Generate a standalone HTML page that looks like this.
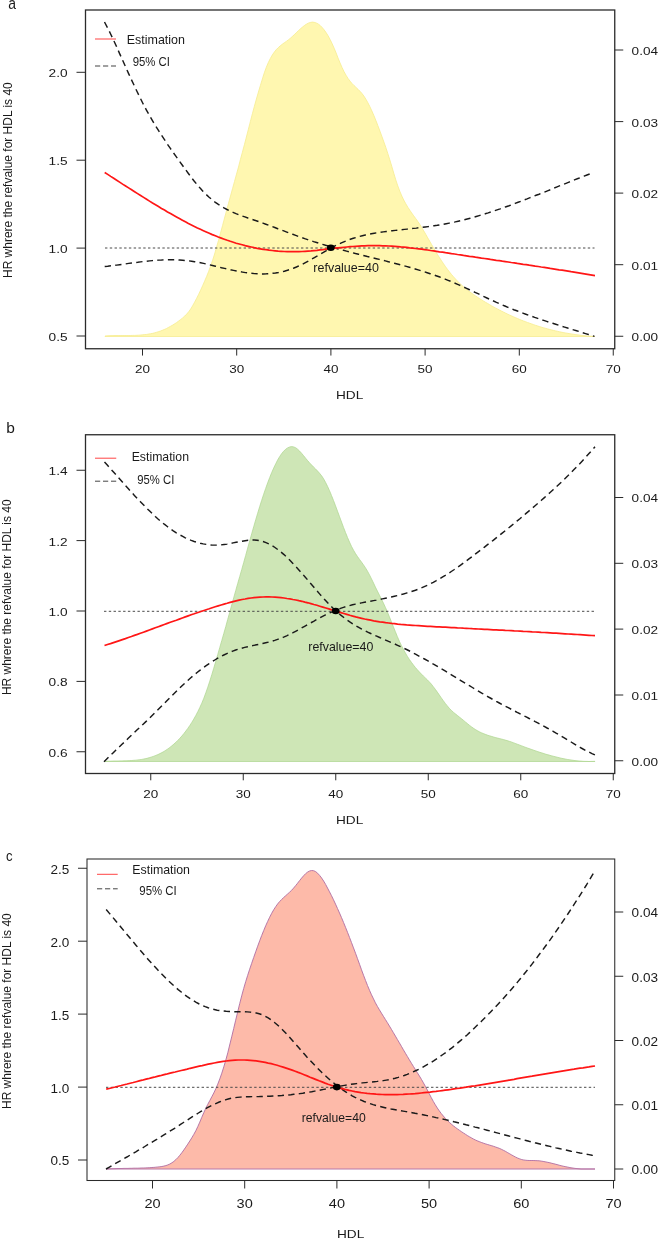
<!DOCTYPE html>
<html><head><meta charset="utf-8"><title>HDL hazard ratio curves</title>
<style>
html,body{margin:0;padding:0;background:#fff;}
body{width:659px;height:1239px;overflow:hidden;}
svg{display:block;}
text{font-family:"Liberation Sans",sans-serif;fill:#1a1a1a;}
</style></head><body>
<svg width="659" height="1239" viewBox="0 0 659 1239">
<rect width="659" height="1239" fill="#fff"/>
<g id="panel-a">
<path d="M105.0,336.0 L107.0,335.8 L109.0,335.7 L111.0,335.6 L113.0,335.6 L115.0,335.5 L117.0,335.5 L118.9,335.5 L120.9,335.5 L122.9,335.5 L124.9,335.5 L126.9,335.5 L128.9,335.5 L130.9,335.5 L132.9,335.4 L134.9,335.4 L136.9,335.3 L138.9,335.2 L140.9,335.0 L142.8,334.8 L144.8,334.6 L146.8,334.4 L148.8,334.0 L150.8,333.7 L152.8,333.3 L154.8,332.8 L156.8,332.2 L158.8,331.6 L160.8,330.9 L162.8,330.1 L164.8,329.3 L166.7,328.4 L168.7,327.3 L170.7,326.2 L172.7,325.1 L174.7,323.8 L176.7,322.5 L178.7,321.0 L180.7,319.5 L182.7,317.9 L184.7,316.1 L186.7,314.1 L188.7,311.7 L190.7,309.0 L192.6,305.8 L194.6,302.2 L196.6,298.4 L198.6,294.4 L200.6,290.2 L202.6,285.8 L204.6,281.2 L206.6,276.5 L208.6,271.5 L210.6,266.1 L212.6,260.3 L214.6,254.0 L216.5,247.3 L218.5,240.4 L220.5,233.1 L222.5,225.7 L224.5,218.2 L226.5,210.7 L228.5,203.3 L230.5,196.0 L232.5,188.7 L234.5,181.5 L236.5,174.2 L238.5,167.0 L240.4,159.6 L242.4,152.2 L244.4,144.7 L246.4,137.0 L248.4,129.2 L250.4,121.4 L252.4,113.7 L254.4,106.2 L256.4,99.0 L258.4,92.1 L260.4,85.4 L262.4,78.9 L264.3,72.8 L266.3,67.3 L268.3,62.6 L270.3,58.5 L272.3,55.0 L274.3,52.1 L276.3,49.6 L278.3,47.6 L280.3,45.8 L282.3,44.2 L284.3,42.8 L286.3,41.4 L288.3,39.9 L290.2,38.4 L292.2,36.6 L294.2,34.8 L296.2,32.8 L298.2,30.9 L300.2,29.0 L302.2,27.3 L304.2,25.7 L306.2,24.3 L308.2,23.2 L310.2,22.5 L312.2,22.1 L314.1,22.3 L316.1,22.9 L318.1,23.9 L320.1,25.4 L322.1,27.4 L324.1,29.8 L326.1,32.6 L328.1,35.8 L330.1,39.5 L332.1,43.6 L334.1,48.1 L336.1,52.9 L338.0,57.9 L340.0,62.8 L342.0,67.4 L344.0,71.6 L346.0,75.2 L348.0,78.4 L350.0,81.1 L352.0,83.5 L354.0,85.5 L356.0,87.4 L358.0,89.3 L360.0,91.3 L362.0,93.5 L363.9,96.1 L365.9,99.2 L367.9,102.8 L369.9,106.7 L371.9,111.0 L373.9,115.6 L375.9,120.5 L377.9,125.7 L379.9,131.0 L381.9,136.4 L383.9,142.0 L385.9,147.7 L387.8,153.5 L389.8,159.8 L391.8,166.4 L393.8,173.3 L395.8,179.9 L397.8,185.9 L399.8,191.2 L401.8,196.0 L403.8,200.1 L405.8,203.8 L407.8,207.2 L409.8,210.2 L411.7,213.0 L413.7,215.8 L415.7,218.5 L417.7,221.3 L419.7,224.2 L421.7,227.4 L423.7,230.8 L425.7,234.2 L427.7,237.8 L429.7,241.2 L431.7,244.7 L433.7,248.1 L435.7,251.4 L437.6,254.7 L439.6,257.8 L441.6,260.9 L443.6,263.9 L445.6,266.8 L447.6,269.5 L449.6,272.1 L451.6,274.6 L453.6,276.9 L455.6,279.1 L457.6,281.2 L459.6,283.2 L461.5,285.1 L463.5,286.8 L465.5,288.5 L467.5,290.1 L469.5,291.6 L471.5,293.1 L473.5,294.5 L475.5,295.9 L477.5,297.2 L479.5,298.5 L481.5,299.7 L483.5,301.0 L485.4,302.2 L487.4,303.3 L489.4,304.5 L491.4,305.7 L493.4,306.8 L495.4,307.9 L497.4,308.9 L499.4,310.0 L501.4,311.0 L503.4,312.0 L505.4,313.0 L507.4,314.0 L509.3,314.9 L511.3,315.8 L513.3,316.7 L515.3,317.6 L517.3,318.4 L519.3,319.3 L521.3,320.1 L523.3,320.9 L525.3,321.6 L527.3,322.4 L529.3,323.1 L531.3,323.8 L533.3,324.5 L535.2,325.2 L537.2,325.8 L539.2,326.5 L541.2,327.1 L543.2,327.7 L545.2,328.2 L547.2,328.8 L549.2,329.3 L551.2,329.8 L553.2,330.3 L555.2,330.8 L557.2,331.2 L559.1,331.7 L561.1,332.1 L563.1,332.5 L565.1,332.9 L567.1,333.2 L569.1,333.6 L571.1,333.9 L573.1,334.2 L575.1,334.5 L577.1,334.8 L579.1,335.0 L581.1,335.3 L583.0,335.5 L585.0,335.7 L587.0,335.9 L589.0,336.1 L591.0,336.2 L593.0,336.4 L595.0,336.5 L595.0,336.5 L105.0,336.5 Z" fill="#FFF7B0" stroke="#F6EC90" stroke-width="0.8" stroke-linejoin="round"/>
<line x1="105" y1="248" x2="594.5" y2="248" stroke="#4a4a4a" stroke-width="1.0" stroke-dasharray="2.4 2.38"/>
<path d="M104.5,22.0 L107.5,27.7 L110.5,33.7 L113.5,40.0 L116.5,46.5 L119.4,53.1 L122.4,59.8 L125.4,66.5 L128.4,73.1 L131.4,79.6 L134.4,86.0 L137.4,92.3 L140.4,98.3 L143.3,104.2 L146.3,109.8 L149.3,115.2 L152.3,120.4 L155.3,125.4 L158.3,130.2 L161.3,134.9 L164.3,139.4 L167.2,143.9 L170.2,148.2 L173.2,152.5 L176.2,156.7 L179.2,160.9 L182.2,165.0 L185.2,169.1 L188.2,173.2 L191.1,177.1 L194.1,181.0 L197.1,184.6 L200.1,188.1 L203.1,191.4 L206.1,194.4 L209.1,197.2 L212.1,199.7 L215.0,202.1 L218.0,204.2 L221.0,206.1 L224.0,207.9 L227.0,209.5 L230.0,211.0 L233.0,212.3 L236.0,213.6 L239.0,214.8 L241.9,215.9 L244.9,216.9 L247.9,218.0 L250.9,219.0 L253.9,220.0 L256.9,221.0 L259.9,222.0 L262.9,223.1 L265.8,224.2 L268.8,225.3 L271.8,226.4 L274.8,227.5 L277.8,228.7 L280.8,229.8 L283.8,230.9 L286.8,232.1 L289.7,233.2 L292.7,234.3 L295.7,235.4 L298.7,236.5 L301.7,237.5 L304.7,238.6 L307.7,239.6 L310.7,240.6 L313.6,241.6 L316.6,242.5 L319.6,243.5 L322.6,244.4 L325.6,245.3 L328.6,246.1 L331.6,247.0 L334.6,247.9 L337.5,248.7 L340.5,249.5 L343.5,250.3 L346.5,251.1 L349.5,251.9 L352.5,252.7 L355.5,253.5 L358.5,254.2 L361.5,255.0 L364.4,255.7 L367.4,256.5 L370.4,257.2 L373.4,258.0 L376.4,258.7 L379.4,259.4 L382.4,260.2 L385.4,260.9 L388.3,261.7 L391.3,262.5 L394.3,263.2 L397.3,264.0 L400.3,264.8 L403.3,265.6 L406.3,266.4 L409.3,267.2 L412.2,268.1 L415.2,269.0 L418.2,269.9 L421.2,270.8 L424.2,271.7 L427.2,272.7 L430.2,273.7 L433.2,274.7 L436.1,275.7 L439.1,276.8 L442.1,277.9 L445.1,279.1 L448.1,280.3 L451.1,281.5 L454.1,282.8 L457.1,284.1 L460.0,285.4 L463.0,286.7 L466.0,288.1 L469.0,289.5 L472.0,290.9 L475.0,292.3 L478.0,293.7 L481.0,295.2 L484.0,296.6 L486.9,298.0 L489.9,299.4 L492.9,300.7 L495.9,302.1 L498.9,303.4 L501.9,304.7 L504.9,306.0 L507.9,307.3 L510.8,308.5 L513.8,309.7 L516.8,310.8 L519.8,312.0 L522.8,313.1 L525.8,314.2 L528.8,315.3 L531.8,316.3 L534.7,317.4 L537.7,318.4 L540.7,319.4 L543.7,320.4 L546.7,321.4 L549.7,322.4 L552.7,323.3 L555.7,324.3 L558.6,325.2 L561.6,326.2 L564.6,327.1 L567.6,328.0 L570.6,329.0 L573.6,329.9 L576.6,330.8 L579.6,331.7 L582.5,332.7 L585.5,333.6 L588.5,334.5 L591.5,335.5 L594.5,336.4" fill="none" stroke="#1a1a1a" stroke-width="1.45" stroke-dasharray="6.3 4.3"/>
<path d="M104.7,266.5 L107.7,266.2 L110.7,265.8 L113.7,265.4 L116.7,265.1 L119.7,264.7 L122.7,264.3 L125.7,263.9 L128.7,263.4 L131.7,263.0 L134.7,262.6 L137.7,262.3 L140.6,261.9 L143.6,261.5 L146.6,261.2 L149.6,260.9 L152.6,260.6 L155.6,260.4 L158.6,260.1 L161.6,260.0 L164.6,259.8 L167.6,259.8 L170.6,259.7 L173.6,259.8 L176.6,259.8 L179.6,260.0 L182.6,260.2 L185.6,260.5 L188.6,260.8 L191.6,261.2 L194.6,261.7 L197.6,262.2 L200.6,262.8 L203.6,263.4 L206.6,264.1 L209.5,264.8 L212.5,265.5 L215.5,266.2 L218.5,266.9 L221.5,267.7 L224.5,268.4 L227.5,269.1 L230.5,269.8 L233.5,270.4 L236.5,271.0 L239.5,271.6 L242.5,272.1 L245.5,272.6 L248.5,273.0 L251.5,273.3 L254.5,273.6 L257.5,273.8 L260.5,273.9 L263.5,273.9 L266.5,273.8 L269.5,273.6 L272.5,273.3 L275.5,273.0 L278.5,272.5 L281.4,271.9 L284.4,271.2 L287.4,270.3 L290.4,269.3 L293.4,268.2 L296.4,267.0 L299.4,265.6 L302.4,264.2 L305.4,262.6 L308.4,261.0 L311.4,259.3 L314.4,257.6 L317.4,255.9 L320.4,254.1 L323.4,252.4 L326.4,250.6 L329.4,249.0 L332.4,247.3 L335.4,245.7 L338.4,244.3 L341.4,242.9 L344.4,241.6 L347.4,240.4 L350.3,239.3 L353.3,238.3 L356.3,237.4 L359.3,236.5 L362.3,235.7 L365.3,235.0 L368.3,234.4 L371.3,233.8 L374.3,233.2 L377.3,232.7 L380.3,232.3 L383.3,231.9 L386.3,231.5 L389.3,231.1 L392.3,230.7 L395.3,230.4 L398.3,230.1 L401.3,229.8 L404.3,229.4 L407.3,229.1 L410.3,228.8 L413.3,228.4 L416.3,228.1 L419.2,227.7 L422.2,227.4 L425.2,227.0 L428.2,226.6 L431.2,226.2 L434.2,225.7 L437.2,225.3 L440.2,224.8 L443.2,224.3 L446.2,223.7 L449.2,223.1 L452.2,222.5 L455.2,221.9 L458.2,221.2 L461.2,220.5 L464.2,219.8 L467.2,219.0 L470.2,218.2 L473.2,217.4 L476.2,216.5 L479.2,215.6 L482.2,214.7 L485.2,213.8 L488.2,212.9 L491.1,211.9 L494.1,210.9 L497.1,209.9 L500.1,208.9 L503.1,207.8 L506.1,206.7 L509.1,205.7 L512.1,204.6 L515.1,203.4 L518.1,202.3 L521.1,201.2 L524.1,200.0 L527.1,198.9 L530.1,197.7 L533.1,196.5 L536.1,195.3 L539.1,194.2 L542.1,193.0 L545.1,191.8 L548.1,190.6 L551.1,189.4 L554.1,188.1 L557.1,186.9 L560.0,185.7 L563.0,184.5 L566.0,183.3 L569.0,182.1 L572.0,180.9 L575.0,179.7 L578.0,178.5 L581.0,177.4 L584.0,176.2 L587.0,175.0 L590.0,173.9 L593.0,172.7" fill="none" stroke="#1a1a1a" stroke-width="1.45" stroke-dasharray="6.3 4.3"/>
<path d="M104.7,172.5 L107.7,174.4 L110.7,176.4 L113.7,178.3 L116.7,180.2 L119.6,182.1 L122.6,184.1 L125.6,186.0 L128.6,187.9 L131.6,189.8 L134.6,191.7 L137.6,193.6 L140.6,195.5 L143.6,197.4 L146.6,199.3 L149.5,201.1 L152.5,203.0 L155.5,204.8 L158.5,206.6 L161.5,208.4 L164.5,210.1 L167.5,211.9 L170.5,213.6 L173.5,215.3 L176.5,217.0 L179.4,218.6 L182.4,220.2 L185.4,221.8 L188.4,223.4 L191.4,224.9 L194.4,226.4 L197.4,227.9 L200.4,229.3 L203.4,230.7 L206.3,232.0 L209.3,233.3 L212.3,234.6 L215.3,235.8 L218.3,237.0 L221.3,238.1 L224.3,239.2 L227.3,240.3 L230.3,241.3 L233.3,242.2 L236.2,243.2 L239.2,244.0 L242.2,244.8 L245.2,245.6 L248.2,246.3 L251.2,247.0 L254.2,247.7 L257.2,248.3 L260.2,248.8 L263.2,249.3 L266.1,249.7 L269.1,250.2 L272.1,250.5 L275.1,250.8 L278.1,251.1 L281.1,251.3 L284.1,251.5 L287.1,251.6 L290.1,251.7 L293.0,251.7 L296.0,251.7 L299.0,251.6 L302.0,251.5 L305.0,251.3 L308.0,251.1 L311.0,250.9 L314.0,250.6 L317.0,250.3 L320.0,249.9 L322.9,249.6 L325.9,249.2 L328.9,248.9 L331.9,248.5 L334.9,248.2 L337.9,247.9 L340.9,247.6 L343.9,247.3 L346.9,247.0 L349.9,246.7 L352.8,246.5 L355.8,246.3 L358.8,246.1 L361.8,245.9 L364.8,245.8 L367.8,245.7 L370.8,245.7 L373.8,245.6 L376.8,245.6 L379.7,245.7 L382.7,245.8 L385.7,245.9 L388.7,246.0 L391.7,246.2 L394.7,246.4 L397.7,246.6 L400.7,246.9 L403.7,247.1 L406.7,247.4 L409.6,247.8 L412.6,248.1 L415.6,248.5 L418.6,248.8 L421.6,249.2 L424.6,249.6 L427.6,250.0 L430.6,250.5 L433.6,250.9 L436.5,251.3 L439.5,251.8 L442.5,252.2 L445.5,252.7 L448.5,253.1 L451.5,253.6 L454.5,254.0 L457.5,254.5 L460.5,254.9 L463.5,255.4 L466.4,255.8 L469.4,256.3 L472.4,256.7 L475.4,257.2 L478.4,257.6 L481.4,258.1 L484.4,258.5 L487.4,258.9 L490.4,259.4 L493.4,259.8 L496.3,260.3 L499.3,260.7 L502.3,261.2 L505.3,261.6 L508.3,262.0 L511.3,262.5 L514.3,262.9 L517.3,263.4 L520.3,263.8 L523.2,264.3 L526.2,264.7 L529.2,265.2 L532.2,265.6 L535.2,266.1 L538.2,266.5 L541.2,267.0 L544.2,267.4 L547.2,267.9 L550.2,268.4 L553.1,268.8 L556.1,269.3 L559.1,269.8 L562.1,270.2 L565.1,270.7 L568.1,271.2 L571.1,271.7 L574.1,272.1 L577.1,272.6 L580.1,273.1 L583.0,273.6 L586.0,274.1 L589.0,274.6 L592.0,275.1 L595.0,275.6" fill="none" stroke="#FF1616" stroke-width="1.7" stroke-linecap="butt"/>
<ellipse cx="330.8" cy="247.8" rx="3.9" ry="3.3" fill="#000"/>
<rect x="85.5" y="10" width="529.25" height="338.75" fill="none" stroke="#2b2b2b" stroke-width="1.3"/>
<line x1="142.5" y1="348.75" x2="142.5" y2="355.55" stroke="#2b2b2b" stroke-width="1"/>
<text x="135.0" y="373.0" font-size="11.3" textLength="15.0" lengthAdjust="spacingAndGlyphs" >20</text>
<line x1="236.7" y1="348.75" x2="236.7" y2="355.55" stroke="#2b2b2b" stroke-width="1"/>
<text x="229.2" y="373.0" font-size="11.3" textLength="15.0" lengthAdjust="spacingAndGlyphs" >30</text>
<line x1="330.9" y1="348.75" x2="330.9" y2="355.55" stroke="#2b2b2b" stroke-width="1"/>
<text x="323.4" y="373.0" font-size="11.3" textLength="15.0" lengthAdjust="spacingAndGlyphs" >40</text>
<line x1="425.1" y1="348.75" x2="425.1" y2="355.55" stroke="#2b2b2b" stroke-width="1"/>
<text x="417.6" y="373.0" font-size="11.3" textLength="15.0" lengthAdjust="spacingAndGlyphs" >50</text>
<line x1="519.3" y1="348.75" x2="519.3" y2="355.55" stroke="#2b2b2b" stroke-width="1"/>
<text x="511.8" y="373.0" font-size="11.3" textLength="15.0" lengthAdjust="spacingAndGlyphs" >60</text>
<line x1="613.25" y1="348.75" x2="613.25" y2="355.55" stroke="#2b2b2b" stroke-width="1"/>
<text x="605.8" y="373.0" font-size="11.3" textLength="15.0" lengthAdjust="spacingAndGlyphs" >70</text>
<line x1="76.5" y1="336" x2="85.5" y2="336" stroke="#2b2b2b" stroke-width="1"/>
<text x="48.6" y="340.9" font-size="11.3" textLength="19.0" lengthAdjust="spacingAndGlyphs" >0.5</text>
<line x1="76.5" y1="248.1" x2="85.5" y2="248.1" stroke="#2b2b2b" stroke-width="1"/>
<text x="48.6" y="253.0" font-size="11.3" textLength="19.0" lengthAdjust="spacingAndGlyphs" >1.0</text>
<line x1="76.5" y1="160.2" x2="85.5" y2="160.2" stroke="#2b2b2b" stroke-width="1"/>
<text x="48.6" y="165.1" font-size="11.3" textLength="19.0" lengthAdjust="spacingAndGlyphs" >1.5</text>
<line x1="76.5" y1="72.3" x2="85.5" y2="72.3" stroke="#2b2b2b" stroke-width="1"/>
<text x="48.6" y="77.2" font-size="11.3" textLength="19.0" lengthAdjust="spacingAndGlyphs" >2.0</text>
<line x1="614.75" y1="336.25" x2="623.25" y2="336.25" stroke="#2b2b2b" stroke-width="1"/>
<text x="631.6" y="341.1" font-size="11.3" textLength="26.4" lengthAdjust="spacingAndGlyphs" >0.00</text>
<line x1="614.75" y1="264.7" x2="623.25" y2="264.7" stroke="#2b2b2b" stroke-width="1"/>
<text x="631.6" y="269.6" font-size="11.3" textLength="26.4" lengthAdjust="spacingAndGlyphs" >0.01</text>
<line x1="614.75" y1="193.1" x2="623.25" y2="193.1" stroke="#2b2b2b" stroke-width="1"/>
<text x="631.6" y="198.0" font-size="11.3" textLength="26.4" lengthAdjust="spacingAndGlyphs" >0.02</text>
<line x1="614.75" y1="121.6" x2="623.25" y2="121.6" stroke="#2b2b2b" stroke-width="1"/>
<text x="631.6" y="126.5" font-size="11.3" textLength="26.4" lengthAdjust="spacingAndGlyphs" >0.03</text>
<line x1="614.75" y1="50" x2="623.25" y2="50" stroke="#2b2b2b" stroke-width="1"/>
<text x="631.6" y="54.9" font-size="11.3" textLength="26.4" lengthAdjust="spacingAndGlyphs" >0.04</text>
<text x="336.0" y="399.3" font-size="11" textLength="27.3" lengthAdjust="spacingAndGlyphs" >HDL</text>
<text transform="translate(12.4,278) rotate(-90)" font-size="12.7" textLength="195.7" lengthAdjust="spacingAndGlyphs" fill="#111">HR whrere the refvalue for HDL is 40</text>
<line x1="95" y1="39" x2="116" y2="39" stroke="#F22" stroke-width="0.85"/>
<line x1="95" y1="66" x2="116" y2="66" stroke="#222" stroke-width="0.85" stroke-dasharray="5.2 2.8"/>
<text x="126.7" y="44.0" font-size="12.6" textLength="58.3" lengthAdjust="spacingAndGlyphs" fill="#111">Estimation</text>
<text x="132.7" y="65.5" font-size="12.6" textLength="37.3" lengthAdjust="spacingAndGlyphs" fill="#111">95% CI</text>
<text x="313.3" y="271.7" font-size="12.2" textLength="65.7" lengthAdjust="spacingAndGlyphs" fill="#111">refvalue=40</text>
<text transform="translate(8.3,8.6) scale(0.82,1)" font-size="17" fill="#111">a</text>
</g>
<g id="panel-b">
<path d="M104.0,761.5 L106.0,761.4 L108.0,761.2 L110.0,761.2 L112.0,761.1 L114.0,761.0 L116.0,761.0 L118.0,761.0 L120.0,760.9 L122.0,760.9 L124.0,760.8 L126.0,760.8 L128.0,760.7 L129.9,760.6 L131.9,760.5 L133.9,760.3 L135.9,760.2 L137.9,759.9 L139.9,759.7 L141.9,759.4 L143.9,759.0 L145.9,758.6 L147.9,758.1 L149.9,757.5 L151.9,756.9 L153.9,756.2 L155.9,755.4 L157.9,754.6 L159.9,753.6 L161.9,752.6 L163.9,751.5 L165.9,750.2 L167.9,748.9 L169.9,747.4 L171.9,745.8 L173.9,744.1 L175.9,742.3 L177.8,740.4 L179.8,738.3 L181.8,736.1 L183.8,733.7 L185.8,731.1 L187.8,728.4 L189.8,725.5 L191.8,722.4 L193.8,719.1 L195.8,715.5 L197.8,711.7 L199.8,707.6 L201.8,703.2 L203.8,698.3 L205.8,692.9 L207.8,687.2 L209.8,681.1 L211.8,674.7 L213.8,668.1 L215.8,661.3 L217.8,654.4 L219.8,647.4 L221.8,640.5 L223.8,633.5 L225.8,626.5 L227.7,619.5 L229.7,612.4 L231.7,605.1 L233.7,597.9 L235.7,590.7 L237.7,583.6 L239.7,576.7 L241.7,569.7 L243.7,562.6 L245.7,555.4 L247.7,548.1 L249.7,540.9 L251.7,533.8 L253.7,526.8 L255.7,519.9 L257.7,513.2 L259.7,506.6 L261.7,500.3 L263.7,494.2 L265.7,488.4 L267.7,482.8 L269.7,477.6 L271.7,472.6 L273.7,468.1 L275.7,463.9 L277.6,460.1 L279.6,456.7 L281.6,453.7 L283.6,451.3 L285.6,449.3 L287.6,447.9 L289.6,447.0 L291.6,446.6 L293.6,446.9 L295.6,447.7 L297.6,449.2 L299.6,451.1 L301.6,453.3 L303.6,455.7 L305.6,458.2 L307.6,460.6 L309.6,462.9 L311.6,465.0 L313.6,467.1 L315.6,469.0 L317.6,471.1 L319.6,473.3 L321.6,475.8 L323.6,478.8 L325.5,482.3 L327.5,486.3 L329.5,490.7 L331.5,495.5 L333.5,500.5 L335.5,505.8 L337.5,511.2 L339.5,516.6 L341.5,522.0 L343.5,527.4 L345.5,532.5 L347.5,537.5 L349.5,542.1 L351.5,546.4 L353.5,550.2 L355.5,553.6 L357.5,556.6 L359.5,559.4 L361.5,562.1 L363.5,564.9 L365.5,567.9 L367.5,571.2 L369.5,574.9 L371.5,578.9 L373.5,583.0 L375.4,587.1 L377.4,591.1 L379.4,595.1 L381.4,599.0 L383.4,603.1 L385.4,607.4 L387.4,612.0 L389.4,616.8 L391.4,621.8 L393.4,626.8 L395.4,631.8 L397.4,636.7 L399.4,641.3 L401.4,645.5 L403.4,649.4 L405.4,653.0 L407.4,656.4 L409.4,659.5 L411.4,662.3 L413.4,665.0 L415.4,667.5 L417.4,669.8 L419.4,672.0 L421.4,674.1 L423.3,676.0 L425.3,677.9 L427.3,679.8 L429.3,681.9 L431.3,684.1 L433.3,686.7 L435.3,689.3 L437.3,692.1 L439.3,695.0 L441.3,697.9 L443.3,700.7 L445.3,703.4 L447.3,705.9 L449.3,708.3 L451.3,710.3 L453.3,712.2 L455.3,713.8 L457.3,715.4 L459.3,717.0 L461.3,718.6 L463.3,720.2 L465.3,721.9 L467.3,723.5 L469.3,725.2 L471.3,726.7 L473.2,728.1 L475.2,729.4 L477.2,730.6 L479.2,731.7 L481.2,732.7 L483.2,733.5 L485.2,734.3 L487.2,735.1 L489.2,735.7 L491.2,736.3 L493.2,736.9 L495.2,737.5 L497.2,738.0 L499.2,738.5 L501.2,739.0 L503.2,739.5 L505.2,740.1 L507.2,740.6 L509.2,741.3 L511.2,741.9 L513.2,742.7 L515.2,743.4 L517.2,744.2 L519.2,744.9 L521.2,745.7 L523.1,746.4 L525.1,747.2 L527.1,747.9 L529.1,748.6 L531.1,749.3 L533.1,750.0 L535.1,750.7 L537.1,751.4 L539.1,752.1 L541.1,752.7 L543.1,753.3 L545.1,754.0 L547.1,754.6 L549.1,755.1 L551.1,755.7 L553.1,756.2 L555.1,756.7 L557.1,757.2 L559.1,757.7 L561.1,758.2 L563.1,758.6 L565.1,759.0 L567.1,759.4 L569.1,759.7 L571.0,760.0 L573.0,760.3 L575.0,760.6 L577.0,760.8 L579.0,761.0 L581.0,761.1 L583.0,761.3 L585.0,761.4 L587.0,761.4 L589.0,761.5 L591.0,761.4 L593.0,761.4 L595.0,761.3 L595.0,761.5 L104.0,761.5 Z" fill="#CEE6B6" stroke="#B2D895" stroke-width="0.8" stroke-linejoin="round"/>
<line x1="104" y1="611.3" x2="595" y2="611.3" stroke="#4a4a4a" stroke-width="1.0" stroke-dasharray="2.4 2.38"/>
<path d="M104.5,462.0 L107.5,465.3 L110.5,468.7 L113.5,472.0 L116.5,475.4 L119.5,478.8 L122.4,482.1 L125.4,485.5 L128.4,488.8 L131.4,492.1 L134.4,495.4 L137.4,498.6 L140.4,501.7 L143.4,504.8 L146.4,507.9 L149.4,510.8 L152.4,513.7 L155.3,516.5 L158.3,519.2 L161.3,521.7 L164.3,524.2 L167.3,526.5 L170.3,528.7 L173.3,530.8 L176.3,532.8 L179.3,534.6 L182.3,536.2 L185.3,537.8 L188.2,539.1 L191.2,540.4 L194.2,541.5 L197.2,542.4 L200.2,543.2 L203.2,543.9 L206.2,544.4 L209.2,544.8 L212.2,545.1 L215.2,545.1 L218.2,545.1 L221.1,544.9 L224.1,544.5 L227.1,544.1 L230.1,543.5 L233.1,542.9 L236.1,542.3 L239.1,541.7 L242.1,541.2 L245.1,540.7 L248.1,540.3 L251.1,540.1 L254.0,540.0 L257.0,540.2 L260.0,540.7 L263.0,541.5 L266.0,542.6 L269.0,543.9 L272.0,545.6 L275.0,547.5 L278.0,549.7 L281.0,552.1 L284.0,554.6 L286.9,557.4 L289.9,560.3 L292.9,563.4 L295.9,566.6 L298.9,569.9 L301.9,573.3 L304.9,576.7 L307.9,580.2 L310.9,583.7 L313.9,587.2 L316.9,590.7 L319.8,594.1 L322.8,597.5 L325.8,600.8 L328.8,604.0 L331.8,607.0 L334.8,609.9 L337.8,612.6 L340.8,615.2 L343.8,617.5 L346.8,619.8 L349.8,621.9 L352.7,623.8 L355.7,625.7 L358.7,627.4 L361.7,629.1 L364.7,630.6 L367.7,632.1 L370.7,633.5 L373.7,634.9 L376.7,636.2 L379.7,637.5 L382.6,638.8 L385.6,640.1 L388.6,641.4 L391.6,642.6 L394.6,643.9 L397.6,645.3 L400.6,646.7 L403.6,648.1 L406.6,649.5 L409.6,651.0 L412.6,652.6 L415.5,654.2 L418.5,655.8 L421.5,657.4 L424.5,659.0 L427.5,660.7 L430.5,662.4 L433.5,664.2 L436.5,665.9 L439.5,667.7 L442.5,669.4 L445.5,671.2 L448.4,673.0 L451.4,674.8 L454.4,676.6 L457.4,678.5 L460.4,680.3 L463.4,682.1 L466.4,683.9 L469.4,685.7 L472.4,687.5 L475.4,689.3 L478.4,691.1 L481.3,692.8 L484.3,694.6 L487.3,696.3 L490.3,698.0 L493.3,699.7 L496.3,701.4 L499.3,703.0 L502.3,704.6 L505.3,706.2 L508.3,707.7 L511.3,709.3 L514.2,710.8 L517.2,712.4 L520.2,713.9 L523.2,715.4 L526.2,716.9 L529.2,718.5 L532.2,720.0 L535.2,721.6 L538.2,723.1 L541.2,724.7 L544.2,726.3 L547.1,728.0 L550.1,729.6 L553.1,731.3 L556.1,733.1 L559.1,734.8 L562.1,736.6 L565.1,738.4 L568.1,740.2 L571.1,742.0 L574.1,743.8 L577.1,745.6 L580.0,747.3 L583.0,749.0 L586.0,750.6 L589.0,752.1 L592.0,753.6 L595.0,755.0" fill="none" stroke="#1a1a1a" stroke-width="1.45" stroke-dasharray="6.3 4.3"/>
<path d="M104.0,761.7 L107.0,758.7 L110.0,755.8 L113.0,752.9 L116.0,750.0 L119.0,747.2 L122.0,744.3 L125.0,741.5 L128.0,738.6 L130.9,735.8 L133.9,733.0 L136.9,730.1 L139.9,727.3 L142.9,724.4 L145.9,721.6 L148.9,718.7 L151.9,715.8 L154.9,712.8 L157.9,709.8 L160.9,706.8 L163.9,703.8 L166.9,700.8 L169.9,697.8 L172.9,694.8 L175.9,691.8 L178.8,688.9 L181.8,686.0 L184.8,683.2 L187.8,680.5 L190.8,677.8 L193.8,675.3 L196.8,672.8 L199.8,670.4 L202.8,668.1 L205.8,665.9 L208.8,663.8 L211.8,661.9 L214.8,660.0 L217.8,658.2 L220.8,656.5 L223.8,655.0 L226.8,653.6 L229.7,652.3 L232.7,651.1 L235.7,650.0 L238.7,649.1 L241.7,648.2 L244.7,647.4 L247.7,646.7 L250.7,646.1 L253.7,645.4 L256.7,644.8 L259.7,644.2 L262.7,643.5 L265.7,642.8 L268.7,642.1 L271.7,641.3 L274.7,640.4 L277.6,639.4 L280.6,638.3 L283.6,637.1 L286.6,635.8 L289.6,634.4 L292.6,632.9 L295.6,631.3 L298.6,629.7 L301.6,628.0 L304.6,626.3 L307.6,624.6 L310.6,622.9 L313.6,621.3 L316.6,619.6 L319.6,618.0 L322.6,616.4 L325.5,614.9 L328.5,613.5 L331.5,612.1 L334.5,610.8 L337.5,609.6 L340.5,608.4 L343.5,607.4 L346.5,606.4 L349.5,605.6 L352.5,604.8 L355.5,604.1 L358.5,603.5 L361.5,602.9 L364.5,602.3 L367.5,601.8 L370.5,601.2 L373.5,600.6 L376.4,600.1 L379.4,599.5 L382.4,598.9 L385.4,598.3 L388.4,597.7 L391.4,597.0 L394.4,596.3 L397.4,595.6 L400.4,594.8 L403.4,594.0 L406.4,593.1 L409.4,592.2 L412.4,591.2 L415.4,590.2 L418.4,589.1 L421.4,587.9 L424.3,586.6 L427.3,585.3 L430.3,583.8 L433.3,582.3 L436.3,580.7 L439.3,579.0 L442.3,577.2 L445.3,575.4 L448.3,573.5 L451.3,571.5 L454.3,569.5 L457.3,567.4 L460.3,565.3 L463.3,563.1 L466.3,560.9 L469.3,558.7 L472.2,556.5 L475.2,554.2 L478.2,551.9 L481.2,549.6 L484.2,547.3 L487.2,544.9 L490.2,542.6 L493.2,540.3 L496.2,537.9 L499.2,535.5 L502.2,533.1 L505.2,530.7 L508.2,528.3 L511.2,525.9 L514.2,523.4 L517.2,520.9 L520.2,518.5 L523.1,516.0 L526.1,513.4 L529.1,510.9 L532.1,508.3 L535.1,505.7 L538.1,503.1 L541.1,500.5 L544.1,497.9 L547.1,495.2 L550.1,492.5 L553.1,489.8 L556.1,487.0 L559.1,484.2 L562.1,481.4 L565.1,478.5 L568.1,475.6 L571.0,472.6 L574.0,469.6 L577.0,466.5 L580.0,463.4 L583.0,460.2 L586.0,456.9 L589.0,453.6 L592.0,450.2 L595.0,446.7" fill="none" stroke="#1a1a1a" stroke-width="1.45" stroke-dasharray="6.3 4.3"/>
<path d="M104.5,645.5 L107.5,644.5 L110.5,643.6 L113.5,642.6 L116.5,641.6 L119.5,640.6 L122.4,639.6 L125.4,638.6 L128.4,637.5 L131.4,636.5 L134.4,635.4 L137.4,634.4 L140.4,633.3 L143.4,632.2 L146.4,631.1 L149.4,630.0 L152.4,628.9 L155.3,627.8 L158.3,626.7 L161.3,625.6 L164.3,624.5 L167.3,623.4 L170.3,622.3 L173.3,621.2 L176.3,620.2 L179.3,619.1 L182.3,618.0 L185.3,616.9 L188.2,615.9 L191.2,614.8 L194.2,613.8 L197.2,612.7 L200.2,611.7 L203.2,610.7 L206.2,609.7 L209.2,608.8 L212.2,607.8 L215.2,606.8 L218.2,605.9 L221.1,605.0 L224.1,604.1 L227.1,603.3 L230.1,602.4 L233.1,601.6 L236.1,600.9 L239.1,600.2 L242.1,599.5 L245.1,599.0 L248.1,598.4 L251.1,598.0 L254.0,597.6 L257.0,597.3 L260.0,597.1 L263.0,597.0 L266.0,596.9 L269.0,596.9 L272.0,597.0 L275.0,597.2 L278.0,597.4 L281.0,597.7 L284.0,598.0 L286.9,598.5 L289.9,598.9 L292.9,599.5 L295.9,600.0 L298.9,600.7 L301.9,601.3 L304.9,602.1 L307.9,602.8 L310.9,603.6 L313.9,604.5 L316.9,605.3 L319.8,606.2 L322.8,607.1 L325.8,608.0 L328.8,608.9 L331.8,609.9 L334.8,610.8 L337.8,611.7 L340.8,612.6 L343.8,613.5 L346.8,614.4 L349.8,615.3 L352.7,616.1 L355.7,616.9 L358.7,617.6 L361.7,618.3 L364.7,619.0 L367.7,619.6 L370.7,620.2 L373.7,620.8 L376.7,621.3 L379.7,621.8 L382.6,622.2 L385.6,622.7 L388.6,623.0 L391.6,623.4 L394.6,623.7 L397.6,624.1 L400.6,624.4 L403.6,624.6 L406.6,624.9 L409.6,625.1 L412.6,625.3 L415.5,625.5 L418.5,625.7 L421.5,625.9 L424.5,626.1 L427.5,626.3 L430.5,626.4 L433.5,626.6 L436.5,626.8 L439.5,626.9 L442.5,627.1 L445.5,627.2 L448.4,627.4 L451.4,627.6 L454.4,627.7 L457.4,627.9 L460.4,628.0 L463.4,628.2 L466.4,628.3 L469.4,628.5 L472.4,628.7 L475.4,628.8 L478.4,629.0 L481.3,629.1 L484.3,629.3 L487.3,629.4 L490.3,629.6 L493.3,629.8 L496.3,629.9 L499.3,630.1 L502.3,630.2 L505.3,630.4 L508.3,630.5 L511.3,630.7 L514.2,630.9 L517.2,631.0 L520.2,631.2 L523.2,631.4 L526.2,631.5 L529.2,631.7 L532.2,631.9 L535.2,632.0 L538.2,632.2 L541.2,632.4 L544.2,632.5 L547.1,632.7 L550.1,632.9 L553.1,633.1 L556.1,633.2 L559.1,633.4 L562.1,633.6 L565.1,633.8 L568.1,634.0 L571.1,634.1 L574.1,634.3 L577.1,634.5 L580.0,634.7 L583.0,634.9 L586.0,635.1 L589.0,635.3 L592.0,635.5 L595.0,635.7" fill="none" stroke="#FF1616" stroke-width="1.7" stroke-linecap="butt"/>
<ellipse cx="335.7" cy="611" rx="3.9" ry="3.3" fill="#000"/>
<rect x="85.5" y="434.75" width="529.25" height="338.75" fill="none" stroke="#2b2b2b" stroke-width="1.3"/>
<line x1="150.75" y1="773.5" x2="150.75" y2="780.3" stroke="#2b2b2b" stroke-width="1"/>
<text x="143.2" y="797.5" font-size="11.3" textLength="15.0" lengthAdjust="spacingAndGlyphs" >20</text>
<line x1="243.25" y1="773.5" x2="243.25" y2="780.3" stroke="#2b2b2b" stroke-width="1"/>
<text x="235.8" y="797.5" font-size="11.3" textLength="15.0" lengthAdjust="spacingAndGlyphs" >30</text>
<line x1="335.75" y1="773.5" x2="335.75" y2="780.3" stroke="#2b2b2b" stroke-width="1"/>
<text x="328.2" y="797.5" font-size="11.3" textLength="15.0" lengthAdjust="spacingAndGlyphs" >40</text>
<line x1="428.25" y1="773.5" x2="428.25" y2="780.3" stroke="#2b2b2b" stroke-width="1"/>
<text x="420.8" y="797.5" font-size="11.3" textLength="15.0" lengthAdjust="spacingAndGlyphs" >50</text>
<line x1="520.75" y1="773.5" x2="520.75" y2="780.3" stroke="#2b2b2b" stroke-width="1"/>
<text x="513.2" y="797.5" font-size="11.3" textLength="15.0" lengthAdjust="spacingAndGlyphs" >60</text>
<line x1="613.25" y1="773.5" x2="613.25" y2="780.3" stroke="#2b2b2b" stroke-width="1"/>
<text x="605.8" y="797.5" font-size="11.3" textLength="15.0" lengthAdjust="spacingAndGlyphs" >70</text>
<line x1="76.5" y1="751.75" x2="85.5" y2="751.75" stroke="#2b2b2b" stroke-width="1"/>
<text x="48.6" y="756.6" font-size="11.3" textLength="19.0" lengthAdjust="spacingAndGlyphs" >0.6</text>
<line x1="76.5" y1="681.4" x2="85.5" y2="681.4" stroke="#2b2b2b" stroke-width="1"/>
<text x="48.6" y="686.3" font-size="11.3" textLength="19.0" lengthAdjust="spacingAndGlyphs" >0.8</text>
<line x1="76.5" y1="611" x2="85.5" y2="611" stroke="#2b2b2b" stroke-width="1"/>
<text x="48.6" y="615.9" font-size="11.3" textLength="19.0" lengthAdjust="spacingAndGlyphs" >1.0</text>
<line x1="76.5" y1="540.6" x2="85.5" y2="540.6" stroke="#2b2b2b" stroke-width="1"/>
<text x="48.6" y="545.5" font-size="11.3" textLength="19.0" lengthAdjust="spacingAndGlyphs" >1.2</text>
<line x1="76.5" y1="470.25" x2="85.5" y2="470.25" stroke="#2b2b2b" stroke-width="1"/>
<text x="48.6" y="475.1" font-size="11.3" textLength="19.0" lengthAdjust="spacingAndGlyphs" >1.4</text>
<line x1="614.75" y1="760.75" x2="623.25" y2="760.75" stroke="#2b2b2b" stroke-width="1"/>
<text x="631.6" y="765.6" font-size="11.3" textLength="26.4" lengthAdjust="spacingAndGlyphs" >0.00</text>
<line x1="614.75" y1="695" x2="623.25" y2="695" stroke="#2b2b2b" stroke-width="1"/>
<text x="631.6" y="699.9" font-size="11.3" textLength="26.4" lengthAdjust="spacingAndGlyphs" >0.01</text>
<line x1="614.75" y1="629.1" x2="623.25" y2="629.1" stroke="#2b2b2b" stroke-width="1"/>
<text x="631.6" y="634.0" font-size="11.3" textLength="26.4" lengthAdjust="spacingAndGlyphs" >0.02</text>
<line x1="614.75" y1="563.3" x2="623.25" y2="563.3" stroke="#2b2b2b" stroke-width="1"/>
<text x="631.6" y="568.2" font-size="11.3" textLength="26.4" lengthAdjust="spacingAndGlyphs" >0.03</text>
<line x1="614.75" y1="497.5" x2="623.25" y2="497.5" stroke="#2b2b2b" stroke-width="1"/>
<text x="631.6" y="502.4" font-size="11.3" textLength="26.4" lengthAdjust="spacingAndGlyphs" >0.04</text>
<text x="336.0" y="824.0" font-size="11" textLength="27.3" lengthAdjust="spacingAndGlyphs" >HDL</text>
<text transform="translate(10.6,695.1) rotate(-90)" font-size="12.7" textLength="195.7" lengthAdjust="spacingAndGlyphs" fill="#111">HR whrere the refvalue for HDL is 40</text>
<line x1="95" y1="458.2" x2="116.25" y2="458.2" stroke="#F22" stroke-width="0.85"/>
<line x1="95" y1="481.2" x2="116.25" y2="481.2" stroke="#222" stroke-width="0.85" stroke-dasharray="5.2 2.8"/>
<text x="131.7" y="461.2" font-size="12.6" textLength="57.3" lengthAdjust="spacingAndGlyphs" fill="#111">Estimation</text>
<text x="137.3" y="484.0" font-size="12.6" textLength="37.0" lengthAdjust="spacingAndGlyphs" fill="#111">95% CI</text>
<text x="308.3" y="651.0" font-size="12.2" textLength="65.0" lengthAdjust="spacingAndGlyphs" fill="#111">refvalue=40</text>
<text transform="translate(6.2,433.2) scale(1,1)" font-size="15.5" fill="#111">b</text>
</g>
<g id="panel-c">
<path d="M106.0,1169.0 L108.0,1168.9 L110.0,1168.8 L112.0,1168.7 L114.0,1168.7 L116.0,1168.6 L118.0,1168.5 L120.0,1168.5 L122.0,1168.5 L124.0,1168.4 L126.0,1168.4 L128.0,1168.4 L130.0,1168.3 L131.9,1168.3 L133.9,1168.2 L135.9,1168.2 L137.9,1168.2 L139.9,1168.1 L141.9,1168.0 L143.9,1168.0 L145.9,1167.9 L147.9,1167.8 L149.9,1167.7 L151.9,1167.5 L153.9,1167.4 L155.9,1167.2 L157.9,1167.0 L159.9,1166.8 L161.9,1166.5 L163.9,1166.1 L165.9,1165.6 L167.9,1164.9 L169.9,1164.0 L171.9,1162.8 L173.9,1161.4 L175.9,1159.6 L177.9,1157.6 L179.8,1155.3 L181.8,1152.8 L183.8,1150.0 L185.8,1147.1 L187.8,1144.1 L189.8,1141.0 L191.8,1137.8 L193.8,1134.4 L195.8,1130.8 L197.8,1126.6 L199.8,1122.1 L201.8,1117.3 L203.8,1112.7 L205.8,1108.3 L207.8,1104.3 L209.8,1100.6 L211.8,1096.8 L213.8,1093.0 L215.8,1088.8 L217.8,1084.1 L219.8,1078.9 L221.8,1073.2 L223.8,1066.9 L225.8,1060.1 L227.8,1052.8 L229.7,1045.0 L231.7,1036.9 L233.7,1028.6 L235.7,1020.2 L237.7,1011.9 L239.7,1003.7 L241.7,995.9 L243.7,988.5 L245.7,981.7 L247.7,975.3 L249.7,969.2 L251.7,963.3 L253.7,957.5 L255.7,951.8 L257.7,946.2 L259.7,940.8 L261.7,935.5 L263.7,930.6 L265.7,925.8 L267.7,921.4 L269.7,917.2 L271.7,913.3 L273.7,909.8 L275.7,906.7 L277.6,904.0 L279.6,901.6 L281.6,899.5 L283.6,897.6 L285.6,895.8 L287.6,894.0 L289.6,892.2 L291.6,890.3 L293.6,888.1 L295.6,885.7 L297.6,883.2 L299.6,880.6 L301.6,878.1 L303.6,875.8 L305.6,873.7 L307.6,872.1 L309.6,871.0 L311.6,870.5 L313.6,870.7 L315.6,871.6 L317.6,873.2 L319.6,875.4 L321.6,878.0 L323.6,881.0 L325.6,884.4 L327.5,888.0 L329.5,891.8 L331.5,895.7 L333.5,899.8 L335.5,904.1 L337.5,908.5 L339.5,913.0 L341.5,917.6 L343.5,922.4 L345.5,927.3 L347.5,932.3 L349.5,937.4 L351.5,942.6 L353.5,947.9 L355.5,953.2 L357.5,958.7 L359.5,964.2 L361.5,969.8 L363.5,975.2 L365.5,980.4 L367.5,985.5 L369.5,990.3 L371.5,994.8 L373.5,998.9 L375.4,1002.8 L377.4,1006.4 L379.4,1009.8 L381.4,1013.1 L383.4,1016.3 L385.4,1019.5 L387.4,1022.7 L389.4,1026.0 L391.4,1029.3 L393.4,1032.7 L395.4,1036.1 L397.4,1039.5 L399.4,1042.9 L401.4,1046.3 L403.4,1049.8 L405.4,1053.2 L407.4,1056.5 L409.4,1059.9 L411.4,1063.2 L413.4,1066.4 L415.4,1069.6 L417.4,1072.8 L419.4,1076.0 L421.4,1079.3 L423.4,1082.8 L425.3,1086.3 L427.3,1090.0 L429.3,1093.9 L431.3,1097.7 L433.3,1101.4 L435.3,1104.8 L437.3,1108.0 L439.3,1110.9 L441.3,1113.6 L443.3,1116.0 L445.3,1118.3 L447.3,1120.4 L449.3,1122.3 L451.3,1124.1 L453.3,1125.8 L455.3,1127.3 L457.3,1128.8 L459.3,1130.2 L461.3,1131.6 L463.3,1132.9 L465.3,1134.2 L467.3,1135.5 L469.3,1136.7 L471.3,1137.8 L473.2,1138.9 L475.2,1139.9 L477.2,1140.8 L479.2,1141.6 L481.2,1142.4 L483.2,1143.1 L485.2,1143.8 L487.2,1144.4 L489.2,1145.0 L491.2,1145.6 L493.2,1146.2 L495.2,1146.9 L497.2,1147.6 L499.2,1148.3 L501.2,1149.2 L503.2,1150.2 L505.2,1151.2 L507.2,1152.4 L509.2,1153.5 L511.2,1154.7 L513.2,1155.8 L515.2,1156.9 L517.2,1157.9 L519.2,1158.7 L521.2,1159.4 L523.1,1159.9 L525.1,1160.2 L527.1,1160.4 L529.1,1160.5 L531.1,1160.5 L533.1,1160.5 L535.1,1160.6 L537.1,1160.7 L539.1,1160.8 L541.1,1161.1 L543.1,1161.4 L545.1,1161.8 L547.1,1162.2 L549.1,1162.6 L551.1,1163.1 L553.1,1163.6 L555.1,1164.1 L557.1,1164.6 L559.1,1165.2 L561.1,1165.7 L563.1,1166.2 L565.1,1166.6 L567.1,1167.0 L569.1,1167.4 L571.0,1167.8 L573.0,1168.1 L575.0,1168.4 L577.0,1168.6 L579.0,1168.8 L581.0,1169.0 L583.0,1169.0 L585.0,1169.0 L587.0,1169.0 L589.0,1169.0 L591.0,1169.0 L593.0,1169.0 L595.0,1169.0 L595.0,1169 L106.0,1169 Z" fill="#FDBAA9" stroke="#B878A8" stroke-width="1.0" stroke-linejoin="round"/>
<line x1="106" y1="1087.3" x2="595" y2="1087.3" stroke="#4a4a4a" stroke-width="1.0" stroke-dasharray="2.4 2.38"/>
<path d="M106.2,909.5 L109.2,913.1 L112.2,916.6 L115.2,920.2 L118.2,923.8 L121.2,927.5 L124.2,931.1 L127.2,934.7 L130.2,938.3 L133.2,941.9 L136.2,945.5 L139.2,949.0 L142.2,952.5 L145.2,956.0 L148.2,959.4 L151.2,962.8 L154.2,966.1 L157.2,969.3 L160.2,972.5 L163.2,975.6 L166.2,978.6 L169.2,981.5 L172.2,984.3 L175.2,987.0 L178.2,989.6 L181.2,992.0 L184.2,994.4 L187.2,996.6 L190.2,998.6 L193.2,1000.6 L196.2,1002.4 L199.2,1004.0 L202.2,1005.4 L205.2,1006.7 L208.2,1007.8 L211.2,1008.8 L214.2,1009.5 L217.2,1010.2 L220.2,1010.7 L223.2,1011.0 L226.2,1011.3 L229.2,1011.5 L232.2,1011.6 L235.2,1011.7 L238.2,1011.7 L241.2,1011.7 L244.2,1011.8 L247.2,1011.9 L250.2,1012.1 L253.2,1012.5 L256.2,1013.0 L259.2,1013.8 L262.2,1014.8 L265.2,1016.2 L268.2,1017.9 L271.2,1019.9 L274.2,1022.2 L277.2,1024.7 L280.2,1027.5 L283.2,1030.5 L286.2,1033.6 L289.2,1036.8 L292.2,1040.2 L295.2,1043.6 L298.2,1047.0 L301.2,1050.4 L304.1,1053.8 L307.1,1057.2 L310.1,1060.4 L313.1,1063.6 L316.1,1066.7 L319.1,1069.7 L322.1,1072.7 L325.1,1075.5 L328.1,1078.2 L331.1,1080.8 L334.1,1083.3 L337.1,1085.7 L340.1,1088.0 L343.1,1090.1 L346.1,1092.2 L349.1,1094.0 L352.1,1095.8 L355.1,1097.4 L358.1,1098.9 L361.1,1100.2 L364.1,1101.5 L367.1,1102.6 L370.1,1103.6 L373.1,1104.6 L376.1,1105.5 L379.1,1106.3 L382.1,1107.0 L385.1,1107.7 L388.1,1108.4 L391.1,1109.0 L394.1,1109.5 L397.1,1110.1 L400.1,1110.6 L403.1,1111.1 L406.1,1111.6 L409.1,1112.2 L412.1,1112.7 L415.1,1113.3 L418.1,1113.8 L421.1,1114.4 L424.1,1115.0 L427.1,1115.6 L430.1,1116.3 L433.1,1116.9 L436.1,1117.6 L439.1,1118.2 L442.1,1118.9 L445.1,1119.6 L448.1,1120.3 L451.1,1121.0 L454.1,1121.8 L457.1,1122.5 L460.1,1123.2 L463.1,1124.0 L466.1,1124.8 L469.1,1125.5 L472.1,1126.3 L475.1,1127.1 L478.1,1127.8 L481.1,1128.6 L484.1,1129.4 L487.1,1130.2 L490.1,1131.0 L493.1,1131.8 L496.1,1132.6 L499.0,1133.4 L502.0,1134.2 L505.0,1135.0 L508.0,1135.8 L511.0,1136.6 L514.0,1137.4 L517.0,1138.1 L520.0,1138.9 L523.0,1139.7 L526.0,1140.5 L529.0,1141.3 L532.0,1142.0 L535.0,1142.8 L538.0,1143.5 L541.0,1144.3 L544.0,1145.0 L547.0,1145.7 L550.0,1146.4 L553.0,1147.2 L556.0,1147.9 L559.0,1148.5 L562.0,1149.2 L565.0,1149.9 L568.0,1150.5 L571.0,1151.2 L574.0,1151.8 L577.0,1152.4 L580.0,1153.0 L583.0,1153.5 L586.0,1154.1 L589.0,1154.6 L592.0,1155.2 L595.0,1155.7" fill="none" stroke="#1a1a1a" stroke-width="1.45" stroke-dasharray="6.3 4.3"/>
<path d="M106.0,1169.0 L109.0,1167.3 L112.0,1165.6 L114.9,1163.8 L117.9,1162.1 L120.9,1160.4 L123.9,1158.7 L126.9,1157.0 L129.9,1155.2 L132.8,1153.5 L135.8,1151.8 L138.8,1150.0 L141.8,1148.3 L144.8,1146.5 L147.7,1144.7 L150.7,1142.9 L153.7,1141.2 L156.7,1139.4 L159.7,1137.5 L162.7,1135.7 L165.6,1133.9 L168.6,1132.0 L171.6,1130.1 L174.6,1128.3 L177.6,1126.4 L180.5,1124.4 L183.5,1122.5 L186.5,1120.6 L189.5,1118.6 L192.5,1116.7 L195.5,1114.8 L198.4,1113.0 L201.4,1111.2 L204.4,1109.4 L207.4,1107.7 L210.4,1106.2 L213.3,1104.7 L216.3,1103.3 L219.3,1102.0 L222.3,1100.9 L225.3,1099.9 L228.2,1099.0 L231.2,1098.3 L234.2,1097.8 L237.2,1097.4 L240.2,1097.1 L243.2,1096.9 L246.1,1096.8 L249.1,1096.7 L252.1,1096.6 L255.1,1096.6 L258.1,1096.6 L261.0,1096.5 L264.0,1096.4 L267.0,1096.3 L270.0,1096.2 L273.0,1096.0 L276.0,1095.9 L278.9,1095.7 L281.9,1095.5 L284.9,1095.2 L287.9,1095.0 L290.9,1094.7 L293.8,1094.3 L296.8,1094.0 L299.8,1093.6 L302.8,1093.2 L305.8,1092.7 L308.8,1092.2 L311.7,1091.7 L314.7,1091.1 L317.7,1090.6 L320.7,1090.0 L323.7,1089.4 L326.6,1088.8 L329.6,1088.2 L332.6,1087.6 L335.6,1087.0 L338.6,1086.4 L341.6,1085.9 L344.5,1085.4 L347.5,1084.9 L350.5,1084.4 L353.5,1084.0 L356.5,1083.6 L359.4,1083.2 L362.4,1082.9 L365.4,1082.6 L368.4,1082.3 L371.4,1082.0 L374.4,1081.7 L377.3,1081.4 L380.3,1081.0 L383.3,1080.6 L386.3,1080.1 L389.3,1079.6 L392.2,1078.9 L395.2,1078.2 L398.2,1077.4 L401.2,1076.5 L404.2,1075.5 L407.2,1074.4 L410.1,1073.2 L413.1,1071.9 L416.1,1070.5 L419.1,1069.1 L422.1,1067.6 L425.0,1065.9 L428.0,1064.2 L431.0,1062.5 L434.0,1060.6 L437.0,1058.6 L440.0,1056.6 L442.9,1054.5 L445.9,1052.4 L448.9,1050.1 L451.9,1047.8 L454.9,1045.4 L457.8,1042.9 L460.8,1040.4 L463.8,1037.8 L466.8,1035.2 L469.8,1032.4 L472.8,1029.6 L475.7,1026.8 L478.7,1023.9 L481.7,1021.0 L484.7,1018.0 L487.7,1015.0 L490.6,1012.0 L493.6,1008.9 L496.6,1005.7 L499.6,1002.5 L502.6,999.3 L505.5,996.0 L508.5,992.6 L511.5,989.2 L514.5,985.7 L517.5,982.1 L520.5,978.5 L523.4,974.9 L526.4,971.2 L529.4,967.4 L532.4,963.6 L535.4,959.7 L538.3,955.8 L541.3,951.8 L544.3,947.8 L547.3,943.7 L550.3,939.6 L553.3,935.4 L556.2,931.1 L559.2,926.8 L562.2,922.4 L565.2,918.0 L568.2,913.5 L571.1,909.0 L574.1,904.4 L577.1,899.8 L580.1,895.1 L583.1,890.3 L586.1,885.5 L589.0,880.6 L592.0,875.7 L595.0,870.7" fill="none" stroke="#1a1a1a" stroke-width="1.45" stroke-dasharray="6.3 4.3"/>
<path d="M106.2,1089.2 L109.2,1088.5 L112.2,1087.7 L115.2,1087.0 L118.2,1086.2 L121.2,1085.5 L124.2,1084.7 L127.2,1084.0 L130.2,1083.2 L133.2,1082.5 L136.2,1081.7 L139.2,1080.9 L142.2,1080.2 L145.2,1079.4 L148.2,1078.7 L151.2,1077.9 L154.2,1077.2 L157.2,1076.4 L160.2,1075.7 L163.2,1074.9 L166.2,1074.2 L169.2,1073.4 L172.2,1072.7 L175.2,1072.0 L178.2,1071.2 L181.2,1070.5 L184.2,1069.8 L187.2,1069.1 L190.2,1068.3 L193.2,1067.6 L196.2,1066.9 L199.2,1066.2 L202.2,1065.6 L205.2,1064.9 L208.2,1064.2 L211.2,1063.6 L214.2,1063.0 L217.2,1062.4 L220.2,1061.9 L223.2,1061.4 L226.2,1061.0 L229.2,1060.6 L232.2,1060.3 L235.2,1060.1 L238.2,1060.0 L241.2,1060.0 L244.2,1060.0 L247.2,1060.1 L250.2,1060.3 L253.2,1060.6 L256.2,1060.9 L259.2,1061.4 L262.2,1061.9 L265.2,1062.4 L268.2,1063.1 L271.2,1063.7 L274.2,1064.5 L277.2,1065.3 L280.2,1066.2 L283.2,1067.1 L286.2,1068.1 L289.2,1069.1 L292.2,1070.1 L295.2,1071.2 L298.2,1072.4 L301.2,1073.5 L304.1,1074.7 L307.1,1075.9 L310.1,1077.2 L313.1,1078.4 L316.1,1079.6 L319.1,1080.8 L322.1,1081.9 L325.1,1083.1 L328.1,1084.2 L331.1,1085.2 L334.1,1086.3 L337.1,1087.2 L340.1,1088.1 L343.1,1088.9 L346.1,1089.7 L349.1,1090.4 L352.1,1091.0 L355.1,1091.6 L358.1,1092.1 L361.1,1092.6 L364.1,1093.0 L367.1,1093.4 L370.1,1093.7 L373.1,1093.9 L376.1,1094.2 L379.1,1094.3 L382.1,1094.5 L385.1,1094.6 L388.1,1094.6 L391.1,1094.6 L394.1,1094.6 L397.1,1094.6 L400.1,1094.5 L403.1,1094.4 L406.1,1094.2 L409.1,1094.0 L412.1,1093.8 L415.1,1093.6 L418.1,1093.3 L421.1,1093.0 L424.1,1092.7 L427.1,1092.4 L430.1,1092.1 L433.1,1091.7 L436.1,1091.4 L439.1,1091.0 L442.1,1090.6 L445.1,1090.2 L448.1,1089.8 L451.1,1089.4 L454.1,1088.9 L457.1,1088.5 L460.1,1088.1 L463.1,1087.6 L466.1,1087.2 L469.1,1086.7 L472.1,1086.2 L475.1,1085.8 L478.1,1085.3 L481.1,1084.8 L484.1,1084.3 L487.1,1083.8 L490.1,1083.3 L493.1,1082.8 L496.1,1082.3 L499.0,1081.8 L502.0,1081.3 L505.0,1080.8 L508.0,1080.3 L511.0,1079.8 L514.0,1079.3 L517.0,1078.7 L520.0,1078.2 L523.0,1077.7 L526.0,1077.2 L529.0,1076.7 L532.0,1076.2 L535.0,1075.6 L538.0,1075.1 L541.0,1074.6 L544.0,1074.1 L547.0,1073.6 L550.0,1073.1 L553.0,1072.6 L556.0,1072.1 L559.0,1071.6 L562.0,1071.1 L565.0,1070.6 L568.0,1070.1 L571.0,1069.6 L574.0,1069.2 L577.0,1068.7 L580.0,1068.2 L583.0,1067.8 L586.0,1067.3 L589.0,1066.9 L592.0,1066.4 L595.0,1066.0" fill="none" stroke="#FF1616" stroke-width="1.7" stroke-linecap="butt"/>
<ellipse cx="336.8" cy="1087.1" rx="3.9" ry="3.3" fill="#000"/>
<rect x="87" y="859" width="527.75" height="321.5" fill="none" stroke="#2b2b2b" stroke-width="1.05"/>
<line x1="152.5" y1="1180.5" x2="152.5" y2="1188.5" stroke="#2b2b2b" stroke-width="1"/>
<text x="144.4" y="1208.2" font-size="12.8" textLength="16.2" lengthAdjust="spacingAndGlyphs" >20</text>
<line x1="244.7" y1="1180.5" x2="244.7" y2="1188.5" stroke="#2b2b2b" stroke-width="1"/>
<text x="236.6" y="1208.2" font-size="12.8" textLength="16.2" lengthAdjust="spacingAndGlyphs" >30</text>
<line x1="336.9" y1="1180.5" x2="336.9" y2="1188.5" stroke="#2b2b2b" stroke-width="1"/>
<text x="328.8" y="1208.2" font-size="12.8" textLength="16.2" lengthAdjust="spacingAndGlyphs" >40</text>
<line x1="429.1" y1="1180.5" x2="429.1" y2="1188.5" stroke="#2b2b2b" stroke-width="1"/>
<text x="421.0" y="1208.2" font-size="12.8" textLength="16.2" lengthAdjust="spacingAndGlyphs" >50</text>
<line x1="521.3" y1="1180.5" x2="521.3" y2="1188.5" stroke="#2b2b2b" stroke-width="1"/>
<text x="513.2" y="1208.2" font-size="12.8" textLength="16.2" lengthAdjust="spacingAndGlyphs" >60</text>
<line x1="613.5" y1="1180.5" x2="613.5" y2="1188.5" stroke="#2b2b2b" stroke-width="1"/>
<text x="605.4" y="1208.2" font-size="12.8" textLength="16.2" lengthAdjust="spacingAndGlyphs" >70</text>
<line x1="78" y1="1160" x2="87" y2="1160" stroke="#2b2b2b" stroke-width="1"/>
<text x="50.6" y="1165.4" font-size="12.8" textLength="18.8" lengthAdjust="spacingAndGlyphs" >0.5</text>
<line x1="78" y1="1087.1" x2="87" y2="1087.1" stroke="#2b2b2b" stroke-width="1"/>
<text x="50.6" y="1092.5" font-size="12.8" textLength="18.8" lengthAdjust="spacingAndGlyphs" >1.0</text>
<line x1="78" y1="1014.1" x2="87" y2="1014.1" stroke="#2b2b2b" stroke-width="1"/>
<text x="50.6" y="1019.5" font-size="12.8" textLength="18.8" lengthAdjust="spacingAndGlyphs" >1.5</text>
<line x1="78" y1="941.2" x2="87" y2="941.2" stroke="#2b2b2b" stroke-width="1"/>
<text x="50.6" y="946.6" font-size="12.8" textLength="18.8" lengthAdjust="spacingAndGlyphs" >2.0</text>
<line x1="78" y1="868.25" x2="87" y2="868.25" stroke="#2b2b2b" stroke-width="1"/>
<text x="50.6" y="873.7" font-size="12.8" textLength="18.8" lengthAdjust="spacingAndGlyphs" >2.5</text>
<line x1="614.75" y1="1169" x2="623.25" y2="1169" stroke="#2b2b2b" stroke-width="1"/>
<text x="631.6" y="1174.4" font-size="12.8" textLength="26.4" lengthAdjust="spacingAndGlyphs" >0.00</text>
<line x1="614.75" y1="1104.75" x2="623.25" y2="1104.75" stroke="#2b2b2b" stroke-width="1"/>
<text x="631.6" y="1110.2" font-size="12.8" textLength="26.4" lengthAdjust="spacingAndGlyphs" >0.01</text>
<line x1="614.75" y1="1040.5" x2="623.25" y2="1040.5" stroke="#2b2b2b" stroke-width="1"/>
<text x="631.6" y="1045.9" font-size="12.8" textLength="26.4" lengthAdjust="spacingAndGlyphs" >0.02</text>
<line x1="614.75" y1="976.25" x2="623.25" y2="976.25" stroke="#2b2b2b" stroke-width="1"/>
<text x="631.6" y="981.7" font-size="12.8" textLength="26.4" lengthAdjust="spacingAndGlyphs" >0.03</text>
<line x1="614.75" y1="912" x2="623.25" y2="912" stroke="#2b2b2b" stroke-width="1"/>
<text x="631.6" y="917.4" font-size="12.8" textLength="26.4" lengthAdjust="spacingAndGlyphs" >0.04</text>
<text x="337.0" y="1237.5" font-size="11" textLength="27.3" lengthAdjust="spacingAndGlyphs" >HDL</text>
<text transform="translate(10.6,1109) rotate(-90)" font-size="12.7" textLength="195.7" lengthAdjust="spacingAndGlyphs" fill="#111">HR whrere the refvalue for HDL is 40</text>
<line x1="97" y1="874.3" x2="117.7" y2="874.3" stroke="#F22" stroke-width="0.85"/>
<line x1="97" y1="888.8" x2="117.7" y2="888.8" stroke="#222" stroke-width="0.85" stroke-dasharray="5.2 2.8"/>
<text x="132.3" y="874.0" font-size="12.6" textLength="57.7" lengthAdjust="spacingAndGlyphs" fill="#111">Estimation</text>
<text x="139.3" y="895.3" font-size="12.6" textLength="37.4" lengthAdjust="spacingAndGlyphs" fill="#111">95% CI</text>
<text x="301.7" y="1121.7" font-size="12.2" textLength="64.0" lengthAdjust="spacingAndGlyphs" fill="#111">refvalue=40</text>
<text transform="translate(5.9,860.8) scale(0.85,1)" font-size="15.5" fill="#111">c</text>
</g>
</svg>
</body></html>
